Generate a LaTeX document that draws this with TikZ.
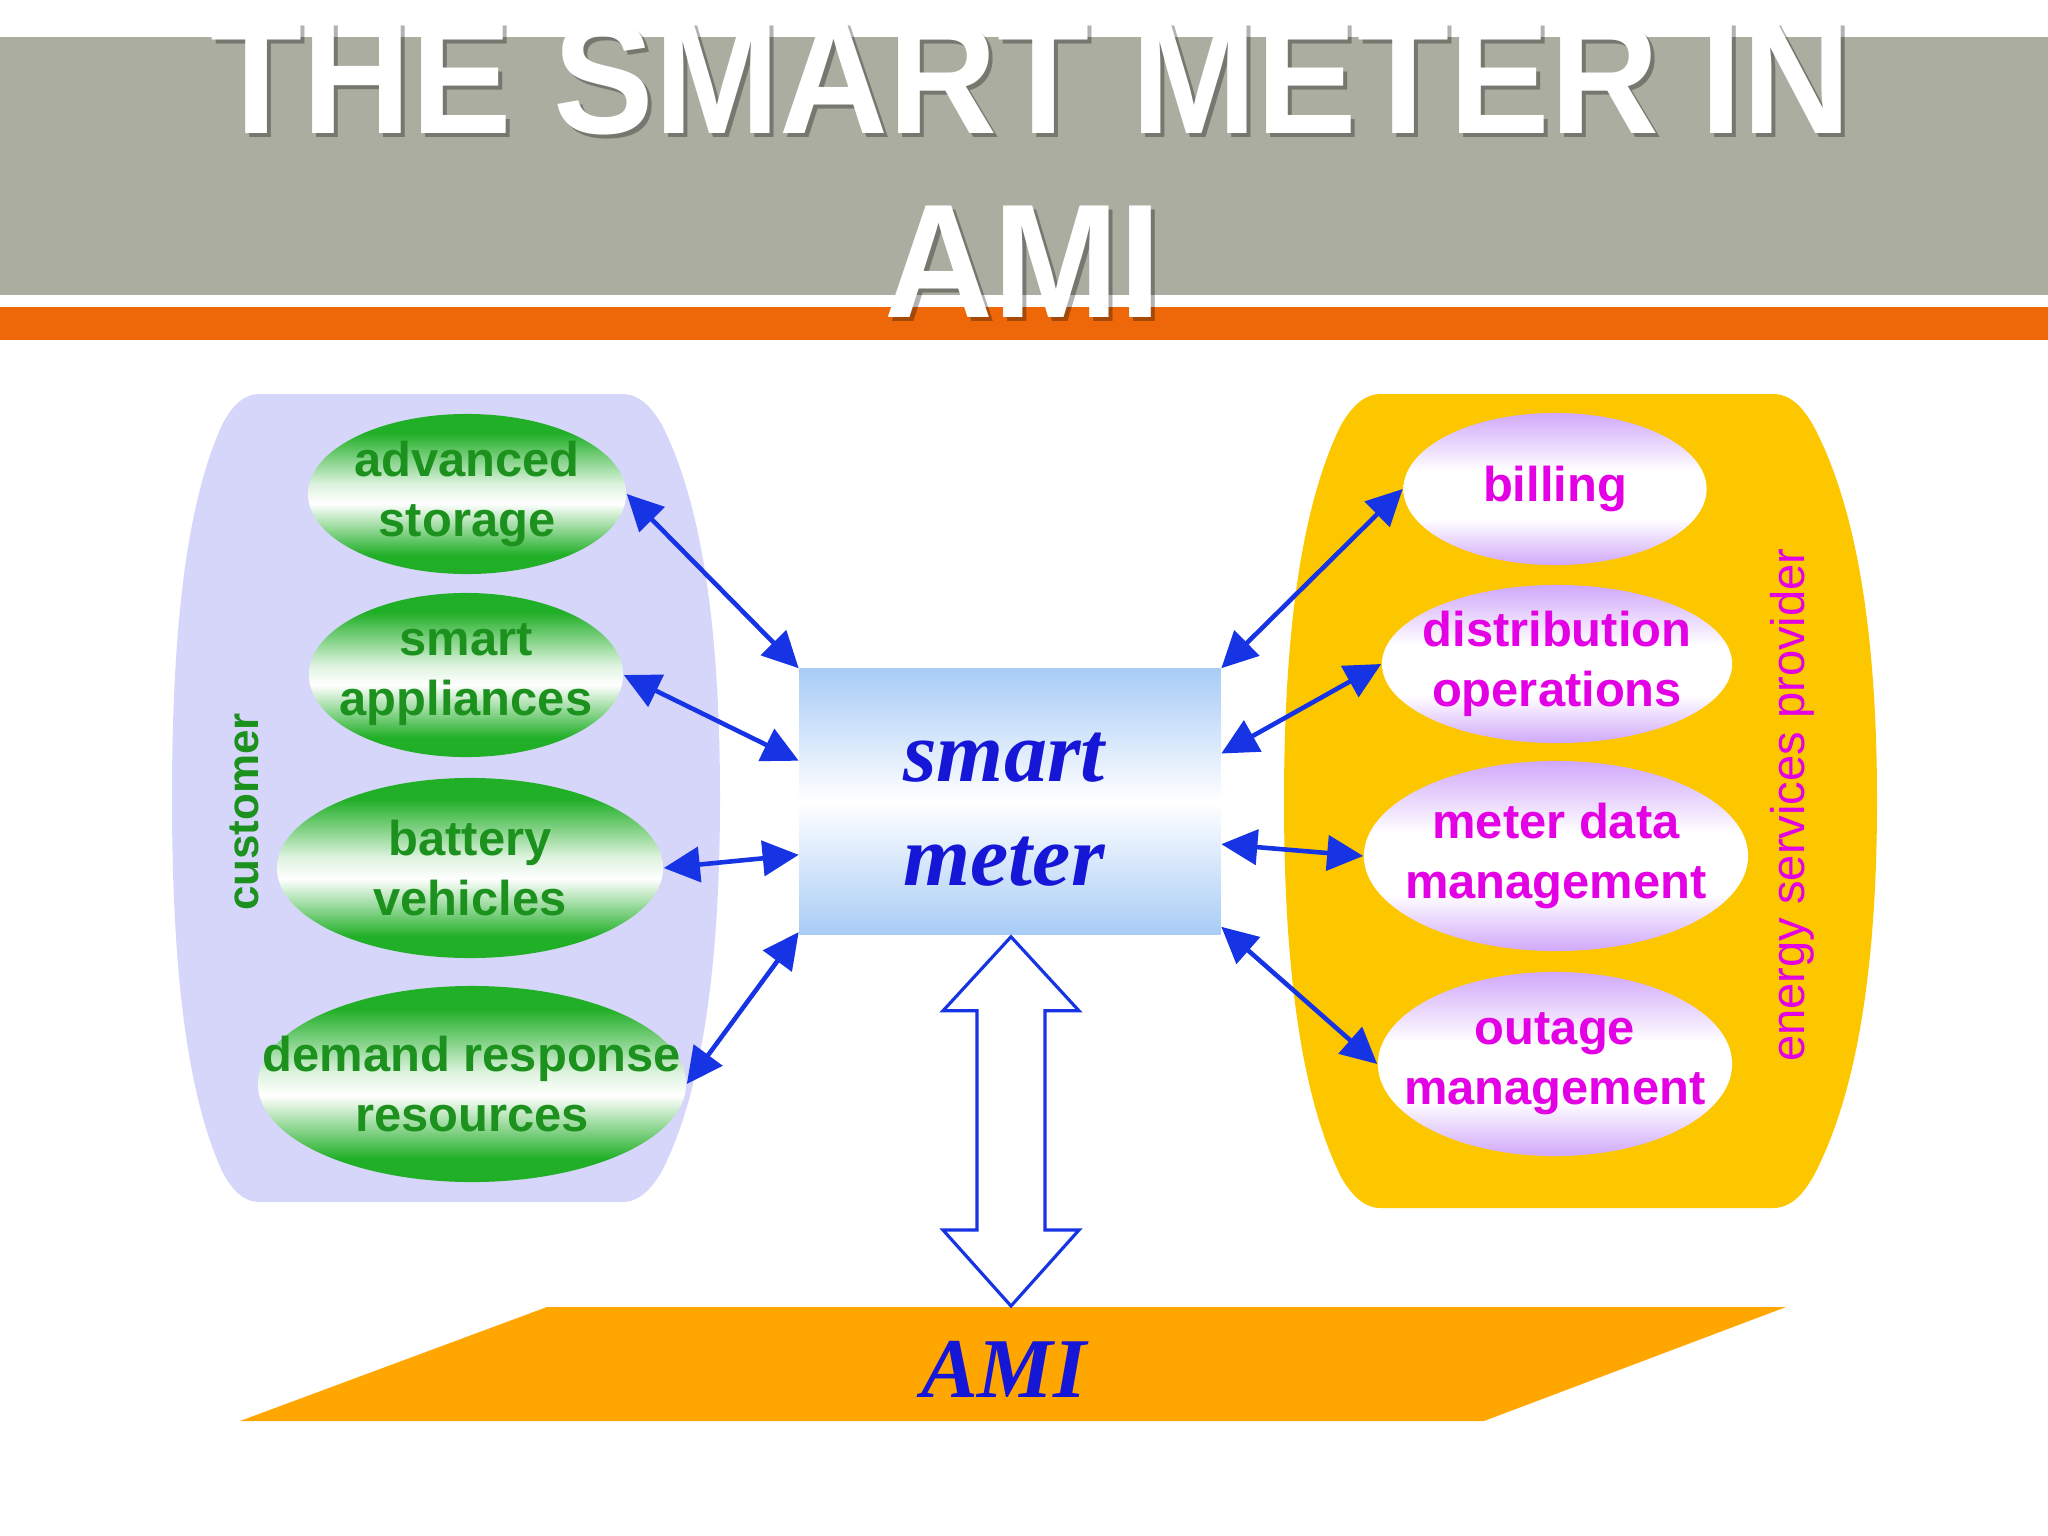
\documentclass[tikz,border=0pt]{standalone}
\usepackage{fontspec}
\setmainfont{Liberation Sans}
\newfontfamily\titlefont[FakeStretch=0.93]{Liberation Sans}
\newfontfamily\smfont{Liberation Serif}
\usetikzlibrary{arrows.meta,calc,shapes.geometric}

\definecolor{band}{RGB}{170,173,160}
\definecolor{bandor}{RGB}{238,104,10}
\definecolor{lav}{RGB}{214,214,250}
\definecolor{yel}{RGB}{253,199,0}
\definecolor{amior}{RGB}{255,167,0}
\definecolor{gE}{RGB}{34,175,40}
\definecolor{gT}{RGB}{28,145,30}
\definecolor{vE}{RGB}{208,168,250}
\definecolor{mT}{RGB}{228,0,228}
\definecolor{bluA}{RGB}{22,52,228}
\definecolor{boxb}{RGB}{168,204,246}
\definecolor{smT}{RGB}{22,22,215}

\pgfdeclareverticalshading{gshade}{100bp}{color(0bp)=(gE); color(25bp)=(gE); color(31bp)=(gE); color(47bp)=(white); color(53bp)=(white!85!gE); color(69bp)=(gE); color(75bp)=(gE); color(100bp)=(gE)}
\pgfdeclareverticalshading{vshade}{100bp}{color(0bp)=(vE); color(25bp)=(vE); color(40bp)=(white); color(56bp)=(white); color(75bp)=(vE); color(100bp)=(vE)}

\tikzset{
  gell/.style={ellipse, shade, shading=gshade, inner sep=0pt},
  vell/.style={ellipse, shade, shading=vshade, inner sep=0pt},
  gtxt/.style={text=gT, align=center, font=\fontsize{13.9}{17.1}\selectfont\bfseries},
  vtxt/.style={text=mT, align=center, font=\fontsize{13.9}{17.1}\selectfont\bfseries},
  smbox/.style={rectangle, inner sep=0pt, top color=boxb, bottom color=boxb, middle color=white},
  smtxt/.style={text=smT, align=center, font=\smfont\bfseries\itshape\fontsize{24.5}{29.6}\selectfont},
  amitxt/.style={text=smT, font=\smfont\bfseries\itshape\fontsize{24.2}{29}\selectfont},
  link/.style={draw=bluA, line width=1.3pt, arrows={Triangle[length=3.6mm,width=3.5mm]-Triangle[length=3.6mm,width=3.5mm]}},
  hollow/.style={draw=bluA, line width=0.9pt, fill=white, line join=miter},
  titletxt/.style={text=white, font=\titlefont\bfseries\fontsize{46.1}{52}\selectfont, inner sep=0pt},
  titleshadow/.style={text=black, opacity=0.3, font=\titlefont\bfseries\fontsize{46.1}{52}\selectfont, inner sep=0pt}
}

\begin{document}
\begin{tikzpicture}[x=0.01cm,y=-0.01cm]
\useasboundingbox (0,0) rectangle (2048,1536);
\fill[white] (0,0) rectangle (2048,1536);

% title bands
\fill[band] (0,37) rectangle (2048,295);
\fill[bandor] (0,307) rectangle (2048,340);

% title
\node[titleshadow, anchor=base] at (1035,137) {THE SMART METER IN};
\node[titleshadow, anchor=base] at (1027,321) {AMI};
\node[titletxt, anchor=base] (title1) at (1031,133) {THE SMART METER IN};
\node[titletxt, anchor=base] (title2) at (1023,317) {AMI};

% panels
\fill[lav] (260,394) -- (622,394) .. controls (640,394) and (652,408) .. (662,425)
  .. controls (700,500) and (720,620) .. (720,798)
  .. controls (720,976) and (700,1096) .. (662,1171)
  .. controls (652,1188) and (640,1202) .. (622,1202) -- (260,1202)
  .. controls (242,1202) and (231,1188) .. (222,1171)
  .. controls (188,1096) and (172,976) .. (172,798)
  .. controls (172,620) and (188,500) .. (222,425)
  .. controls (231,408) and (242,394) .. (260,394) -- cycle;
\fill[yel] (1381,394) -- (1773,394) .. controls (1791,394) and (1803,408) .. (1813,425)
  .. controls (1853,500) and (1877,620) .. (1877,801)
  .. controls (1877,982) and (1853,1102) .. (1813,1177)
  .. controls (1803,1194) and (1791,1208) .. (1773,1208) -- (1381,1208)
  .. controls (1363,1208) and (1351,1194) .. (1341,1177)
  .. controls (1304,1102) and (1284,982) .. (1284,801)
  .. controls (1284,620) and (1304,500) .. (1341,425)
  .. controls (1351,408) and (1363,394) .. (1381,394) -- cycle;

\node[text=gT, rotate=90, font=\fontsize{12.5}{15}\selectfont\bfseries] (cust) at (244,812) {customer};
\node[text=mT, rotate=90, font=\fontsize{13.4}{16}\selectfont] (esp) at (1792,805) {energy services provider};

% customer ellipses
\node[gell, minimum width=3.18cm, minimum height=1.60cm] (as) at (467,494) {};
\node[gtxt] at (as) {advanced\\storage};
\node[gell, minimum width=3.14cm, minimum height=1.64cm] (sa) at (466,675) {};
\node[gtxt] at (sa) {smart\\appliances};
\node[gell, minimum width=3.86cm, minimum height=1.80cm] (bv) at (470,868) {};
\node[gtxt] at (bv) {battery\\vehicles};
\node[gell, minimum width=4.28cm, minimum height=1.96cm] (dr) at (472,1084) {};
\node[gtxt] at (dr) {demand response\\resources};

% provider ellipses
\node[vell, minimum width=3.03cm, minimum height=1.52cm] (bi) at (1555,489) {};
\node[vtxt] at (bi) {billing};
\node[vell, minimum width=3.50cm, minimum height=1.58cm] (do) at (1557,664) {};
\node[vtxt] at (do) {distribution\\operations};
\node[vell, minimum width=3.84cm, minimum height=1.90cm] (md) at (1556,856) {};
\node[vtxt] at (md) {meter data\\management};
\node[vell, minimum width=3.54cm, minimum height=1.84cm] (om) at (1555,1064) {};
\node[vtxt] at (om) {outage\\management};

% smart meter box
\node[smbox, minimum width=4.21cm, minimum height=2.65cm] (sm) at (1010,801.5) {};
\node[smtxt] at (1004,810) {smart\\meter};

% AMI plate
\fill[amior] (547,1307) -- (1786,1307) -- (1484,1421) -- (240,1421) -- cycle;
\coordinate (amitop) at (1011,1306);
\node[amitxt, anchor=base] (ami) at (1004,1397) {AMI};

% connectors left
\draw[link] (as.east) -- (sm.north west);
\draw[link] (sa.east) -- ($(sm.north west)!0.347!(sm.south west)$);
\draw[link] (bv.east) -- ($(sm.north west)!0.70!(sm.south west)$);
\draw[link] (dr.east) -- ($(sm.north west)!0.99!(sm.south west)$);
% connectors right
\draw[link] (sm.north east) -- (bi.west);
\draw[link] ($(sm.north east)!0.32!(sm.south east)$) -- (do.west);
\draw[link] ($(sm.north east)!0.66!(sm.south east)$) -- (md.west);
\draw[link] ($(sm.north east)!0.97!(sm.south east)$) -- (om.west);

% hollow double arrow between smart meter and AMI
\coordinate (ha) at ($(sm.south)+(1,2)$);
\draw[hollow] (ha) -- ($(ha)+(68,74)$) -- ($(ha)+(34,74)$) -- ($(amitop)+(34,-76)$) -- ($(amitop)+(68,-76)$) -- (amitop)
  -- ($(amitop)+(-68,-76)$) -- ($(amitop)+(-34,-76)$) -- ($(ha)+(-34,74)$) -- ($(ha)+(-68,74)$) -- cycle;
\end{tikzpicture}
\end{document}
